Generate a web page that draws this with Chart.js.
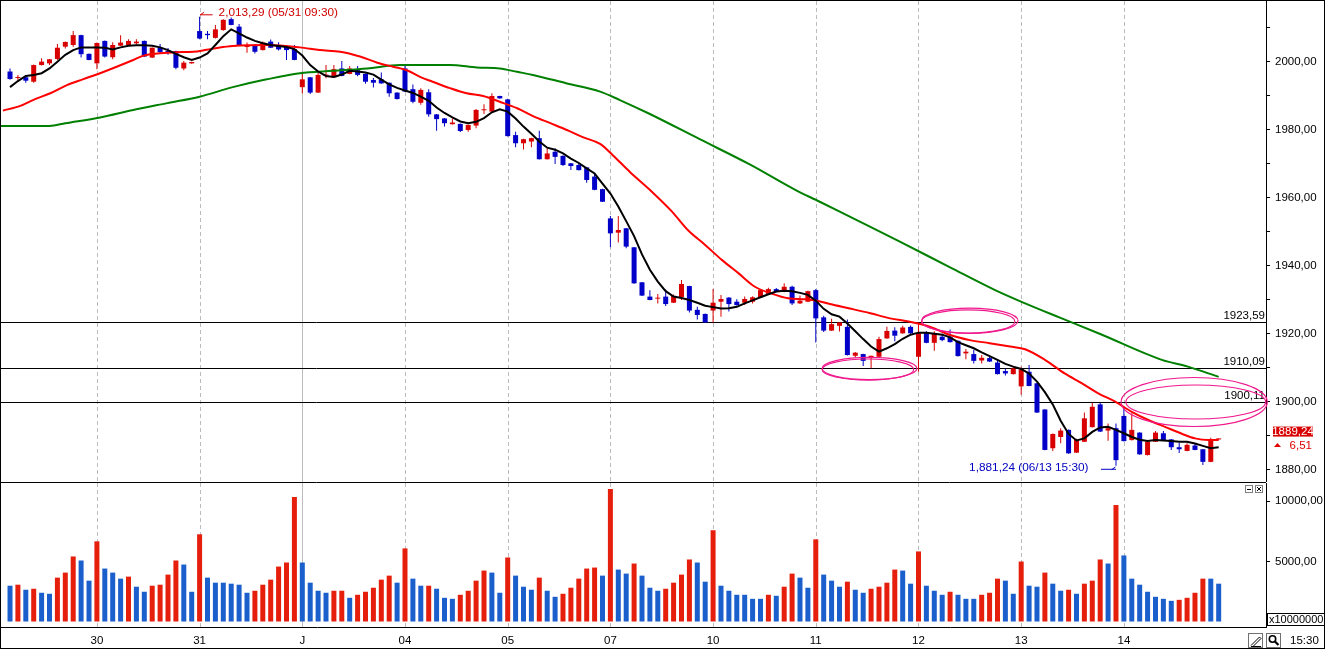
<!DOCTYPE html>
<html>
<head>
<meta charset="utf-8">
<script src="https://cdn.jsdelivr.net/npm/chart.js@4.4.1/dist/chart.umd.min.js"></script>
<style>
body { margin: 0; background: #fff; }
#wrap { position: relative; width: 1325px; height: 649px; overflow: hidden; background: #fff; }
#frame { position: absolute; left: 0; top: 0; width: 1323px; height: 647px; border: 1px solid #000; pointer-events: none; }
.box { position: absolute; left: 0; width: 1325px; }
</style>
</head>
<body>
<div id="wrap">
  <div class="box" style="top:0;height:482px"><canvas id="price" width="1325" height="482"></canvas></div>
  <div class="box" style="top:482px;height:167px"><canvas id="vol" width="1325" height="167"></canvas></div>
  <div id="frame"></div>
</div>
<script>
// 30-minute bars, 29 May (partial) .. 14 June
var dayStart = [11, 24, 37, 50, 63, 76, 89, 102, 115, 128, 141];
var dayLabel = ['30', '31', 'J', '04', '05', '07', '10', '11', '12', '13', '14'];

var opens = [1997.2,1995.3,1995.5,1994.2,1999.1,1999.6,2000.9,2004.5,2005.0,2007.9,
  2002.4,1999.6,2006.2,2001.4,2004.8,2005.0,2005.5,2006.2,2001.3,2004.2,
  2003.3,2003.2,1998.1,1999.6,2009.1,2008.3,2007.1,2009.4,2012.6,2010.4,
  2004.4,2004.7,2003.5,2006.0,2005.0,2004.7,2003.8,1992.6,1995.5,1991.0,
  1996.0,1995.5,1998.1,1996.5,1997.6,1996.5,1994.7,1994.9,1993.9,1991.0,
  1998.1,1992.0,1988.0,1991.1,1984.6,1983.4,1981.7,1981.8,1980.0,1981.3,
  1985.8,1985.4,1990.0,1989.0,1978.5,1976.1,1976.6,1977.6,1971.4,1973.6,
  1972.4,1970.2,1969.7,1969.0,1966.3,1962.6,1954.0,1949.8,1951.1,1945.5,
  1935.2,1931.0,1930.4,1931.0,1929.2,1930.8,1934.1,1927.1,1925.9,1926.9,
  1929.5,1930.7,1929.5,1929.2,1929.5,1930.8,1931.8,1933.2,1932.4,1933.9,
  1929.0,1929.5,1932.9,1924.9,1921.0,1922.4,1922.1,1913.6,1914.1,1912.9,
  1913.3,1918.7,1921.0,1920.2,1922.1,1913.3,1920.4,1917.4,1919.2,1919.2,
  1918.0,1914.3,1914.1,1912.2,1912.9,1911.6,1909.1,1908.2,1904.6,1908.9,
  1905.5,1897.8,1886.4,1889.7,1891.8,1885.1,1888.3,1892.6,1899.3,1891.6,
  1892.3,1895.9,1888.8,1891.0,1884.4,1888.3,1890.8,1889.0,1886.7,1885.6,
  1887.2,1886.1,1882.4,1889.0];
var highs = [1998.1,1996.2,1996.2,1999.3,2001.1,2000.9,2005.3,2006.0,2009.1,2008.0,
  2002.5,2005.7,2006.3,2005.8,2007.9,2006.7,2006.7,2006.3,2004.3,2005.3,
  2004.1,2003.3,2000.3,2000.1,2013.29,2009.1,2010.9,2012.6,2013.1,2011.2,
  2005.7,2005.3,2006.0,2006.6,2005.8,2004.8,2005.0,1997.1,1995.6,1996.9,
  1999.1,1999.1,2000.3,1998.8,1998.8,1996.6,1995.3,1996.9,1994.0,1991.1,
  1999.4,1993.4,1992.3,1992.0,1984.7,1983.5,1983.4,1981.9,1981.6,1986.2,
  1987.6,1990.8,1990.1,1989.2,1979.5,1977.4,1977.7,1979.8,1974.6,1974.6,
  1972.5,1970.3,1970.2,1969.1,1967.3,1962.7,1954.7,1954.7,1951.2,1945.6,
  1935.3,1932.9,1931.8,1933.1,1931.6,1935.9,1934.2,1928.0,1926.0,1933.2,
  1931.5,1930.9,1930.2,1931.0,1931.1,1933.1,1933.6,1933.5,1934.9,1934.2,
  1931.3,1932.7,1933.2,1925.4,1924.5,1923.4,1924.3,1914.7,1914.2,1913.6,
  1919.2,1922.1,1922.0,1922.4,1922.5,1923.1,1920.8,1920.8,1920.1,1921.3,
  1918.1,1915.6,1915.4,1913.8,1913.6,1912.5,1909.8,1910.4,1910.4,1910.9,
  1905.6,1897.9,1890.7,1892.3,1891.9,1889.2,1896.9,1899.8,1899.8,1893.7,
  1893.7,1898.6,1896.7,1891.1,1888.8,1891.5,1891.5,1889.1,1888.0,1887.9,
  1887.9,1886.2,1889.5,1889.3];
var lows = [1994.8,1994.2,1993.9,1993.9,1999.0,1999.1,2000.6,2004.0,2004.5,2001.3,
  2000.5,1997.9,2001.3,2000.8,2004.7,2004.9,2005.1,2001.5,2001.2,2002.4,
  2002.1,1997.9,1997.6,1999.5,2006.7,2006.7,2006.9,2009.2,2010.8,2004.9,
  2002.7,2002.5,2003.4,2004.1,2003.4,2000.6,2000.5,1990.8,1990.6,1990.9,
  1995.2,1995.4,1995.8,1996.4,1995.8,1993.6,1992.5,1993.6,1989.8,1989.0,
  1991.2,1987.9,1987.4,1983.9,1979.8,1981.0,1981.6,1979.4,1979.5,1980.5,
  1984.7,1985.3,1989.2,1978.1,1974.9,1974.3,1974.9,1971.3,1971.3,1970.0,
  1969.4,1968.2,1968.1,1964.5,1962.3,1958.8,1945.5,1946.9,1945.2,1934.8,
  1931.2,1929.9,1929.0,1928.2,1929.1,1930.0,1926.3,1924.3,1923.3,1923.4,
  1925.1,1926.6,1928.4,1928.5,1929.0,1930.7,1931.7,1932.3,1932.3,1928.5,
  1928.8,1929.4,1917.5,1920.6,1920.9,1920.7,1913.7,1913.0,1910.6,1909.9,
  1913.2,1918.6,1917.9,1920.1,1920.1,1908.9,1917.3,1915.1,1917.9,1917.5,
  1913.4,1912.6,1911.3,1911.3,1911.8,1908.1,1907.8,1908.1,1902.1,1904.6,
  1896.8,1885.8,1885.6,1887.9,1884.8,1885.0,1888.2,1892.5,1891.2,1888.6,
  1881.24,1888.4,1888.7,1884.5,1884.3,1888.2,1888.7,1885.9,1885.0,1885.5,
  1885.8,1881.5,1882.3,1888.9];
var closes = [1995.0,1995.5,1994.5,1999.1,2000.1,2000.8,2004.2,2005.9,2007.9,2002.3,
  2000.6,2005.6,2001.6,2005.0,2005.7,2006.2,2006.0,2001.6,2004.2,2002.9,
  2002.8,1998.3,1999.8,2000.0,2006.9,2007.9,2009.6,2012.4,2010.9,2005.0,
  2004.6,2003.0,2005.7,2004.2,2003.7,2003.5,2000.6,1994.9,1991.0,1996.2,
  1996.3,1997.9,1995.9,1998.1,1996.2,1994.2,1993.9,1993.7,1990.8,1989.1,
  1991.3,1988.3,1991.8,1984.6,1983.2,1982.0,1982.2,1979.7,1981.5,1985.9,
  1986.0,1990.0,1989.3,1978.2,1976.1,1977.3,1977.6,1971.4,1973.1,1972.1,
  1969.7,1969.4,1968.2,1965.3,1962.4,1958.9,1949.6,1950.6,1945.7,1934.9,
  1931.3,1930.0,1930.6,1928.8,1931.2,1934.7,1926.9,1925.6,1923.4,1929.2,
  1930.3,1928.8,1928.5,1930.3,1930.8,1932.9,1933.2,1932.4,1933.9,1929.0,
  1929.8,1932.6,1924.6,1921.0,1922.9,1923.4,1913.8,1914.5,1912.1,1913.6,
  1918.5,1920.9,1919.5,1921.9,1920.2,1920.2,1917.4,1920.0,1918.2,1917.6,
  1913.5,1914.8,1912.1,1913.0,1911.9,1908.2,1908.4,1909.9,1909.6,1904.7,
  1896.9,1885.9,1890.6,1891.6,1884.9,1888.8,1895.2,1898.6,1891.3,1892.3,
  1882.9,1888.5,1891.8,1884.6,1888.3,1891.0,1888.8,1886.7,1886.1,1887.4,
  1885.9,1882.4,1889.0,1889.24];

var volumes = [3000,3083,2667,2750,2417,2333,3667,4083,5417,5083,
  3417,6667,4417,4083,3583,3750,2917,2500,3000,3083,
  3917,5083,4750,2500,7250,3667,3250,3250,3167,3083,
  2417,2583,3083,3500,4583,4917,10333,4917,3250,2583,
  2417,2583,2583,2000,2250,2500,2833,3500,3833,3250,
  6083,3583,3000,3000,2750,2000,1917,2250,2583,3417,
  4250,4083,2417,5333,3833,2917,2667,3667,2583,2083,
  2333,2833,3583,4417,4500,3833,11000,4333,4000,4833,
  3833,2833,2583,2750,3250,3917,5167,4917,3333,7583,
  3000,2583,2250,2250,1917,1917,2250,2167,2917,4000,
  3667,2833,6833,3917,3417,2917,3333,2667,2417,2750,
  2917,3250,4333,4250,3167,5833,3000,2583,2250,2500,
  2250,1917,1917,2250,2417,3583,3417,2333,5000,3000,
  2917,4083,3167,2583,2667,2333,3167,3417,5167,4833,
  9667,5500,3583,3083,2500,2083,1917,1750,1833,2000,
  2417,3583,3583,3167];
// 1 = red (up) volume bar, 0 = blue
var volUp = [0,1,0,1,0,0,1,1,1,0, 0,1,0,0,0,1,0,0,1,1, 1,1,0,0,1,0,0,0,0,0,
  0,1,1,1,1,1,1,0,0,0, 0,1,1,0,1,1,1,1,1,0, 1,0,0,1,0,0,0,1,1,1,
  1,0,0,1,0,0,0,1,0,0, 1,1,1,1,1,0,1,0,0,1, 0,0,0,1,1,1,1,0,0,1,
  0,0,0,0,0,0,1,0,1,1, 0,0,1,0,0,0,1,0,0,1, 1,1,1,0,0,1,0,0,0,1,
  0,0,0,1,1,1,0,0,1,0, 0,1,0,0,1,0,1,1,1,0, 1,0,0,0,0,0,0,0,1,1,
  1,1,0,0];

// short moving average (black), one value per bar
var ma5 = [1992.6,1994.4,1995.9,1996.2,1996.7,1998.1,2000.1,2002.1,2003.5,2004.3,
  2004.3,2004.3,2004.2,2003.7,2004.3,2004.8,2004.9,2004.9,2004.8,2004.3,
  2003.5,2002.4,2001.4,2000.6,2001.3,2002.5,2005.0,2007.6,2009.6,2008.4,
  2007.2,2006.2,2005.5,2005.0,2004.7,2004.4,2003.8,2001.9,1999.1,1997.2,
  1995.9,1995.6,1996.3,1997.4,1997.2,1996.9,1996.3,1994.8,1993.4,1992.4,
  1991.6,1990.9,1989.8,1988.6,1986.6,1985.0,1983.7,1982.5,1982.0,1982.4,
  1983.5,1985.2,1986.1,1985.4,1983.4,1981.0,1978.9,1976.6,1974.8,1974.2,
  1973.1,1971.6,1970.3,1968.7,1967.2,1964.2,1961.3,1957.5,1953.2,1948.8,
  1943.4,1938.9,1935.4,1932.6,1931.0,1930.6,1930.0,1929.2,1928.3,1927.9,
  1927.5,1927.6,1928.0,1929.0,1929.9,1930.8,1931.7,1932.5,1932.7,1932.6,
  1932.1,1931.5,1929.8,1927.4,1925.8,1925.1,1923.1,1920.8,1918.5,1916.3,
  1914.8,1915.8,1917.0,1918.6,1919.8,1920.4,1920.4,1920.1,1919.8,1919.0,
  1917.6,1916.7,1915.8,1914.6,1913.5,1912.4,1911.2,1910.4,1909.7,1908.4,
  1906.0,1902.9,1899.3,1894.5,1890.6,1888.7,1889.3,1891.2,1892.5,1892.7,
  1891.8,1890.8,1889.7,1888.9,1888.5,1888.8,1888.7,1888.5,1888.3,1888.3,
  1887.8,1887.1,1886.4,1886.7];
// middle (red) and long (green) averages, read as [bar, value]
var ma20 = [[-0.9,1985.7],[1.3,1987.1],[2.9,1988.8],[5.1,1990.8],[7.2,1993.2],[9.2,1994.9],
  [11.4,1996.7],[13.5,1998.6],[15.6,2000.6],[16.8,2001.8],[19,2002.6],[21.1,2002.9],
  [23.2,2003.0],[24.9,2003.6],[26.4,2004.2],[28.2,2004.7],[32.5,2005.0],[36.7,2004.3],
  [39.2,2003.5],[41.8,2003.0],[44.3,2001.6],[46.5,1999.8],[48.5,1998.6],[50.3,1997.5],
  [51.9,1995.6],[53.5,1994.2],[55.7,1992.3],[57.8,1990.8],[59.9,1990.0],[62,1988.3],
  [64.2,1986.4],[66.2,1984.1],[68.4,1982.0],[70.5,1980.0],[72.5,1977.9],[74.7,1975.9],
  [76.3,1972.6],[78.5,1967.6],[81,1962.4],[83.8,1956.0],[85.8,1950.6],[88,1946.2],
  [90.1,1941.8],[92.2,1937.9],[94.3,1933.9],[96.5,1931.8],[98.5,1930.5],[100.6,1930.2],
  [102.3,1929.7],[103.8,1928.8],[106.3,1927.5],[108.9,1926.1],[111.4,1924.6],[113.9,1923.6],
  [116.5,1922.1],[119,1919.7],[121.5,1918.2],[124,1917.3],[126.6,1916.3],[128.5,1915.5],
  [131,1912.4],[133.5,1908.4],[135.7,1905.5],[137.7,1902.6],[139.9,1900.1],[142,1897.1],
  [144.1,1894.7],[146.2,1892.7],[148.4,1890.6],[150,1889.3],[151.7,1888.8],[153,1888.8]];
var ma60 = [[-1.3,1981.2],[5,1981.2],[7,1982.0],[11.4,1983.7],[15.6,1985.9],[19.9,1987.9],
  [24,1989.8],[28.2,1992.6],[32.5,1994.9],[36.7,1996.7],[40.9,1997.4],[45.2,1998.1],
  [49.4,1999.1],[55.7,1999.1],[59.1,1998.4],[62,1998.1],[64.2,1997.1],[66.2,1996.2],
  [70.5,1993.7],[74.7,1991.3],[77.2,1988.8],[81,1984.7],[87.3,1977.3],[93.7,1969.8],
  [99.4,1962.4],[102.5,1958.9],[106.3,1954.5],[112.7,1947.1],[119,1939.6],[124.7,1932.9],
  [128.5,1929.0],[132.9,1924.8],[138,1920.0],[145.8,1912.4],[149.1,1910.4],[153,1907.4]];

var levels = [1923.59, 1910.09, 1900.11];
var levelText = ['1923,59', '1910,09', '1900,11'];
var priceTicks = [1880,1890,1900,1910,1920,1930,1940,1950,1960,1970,1980,1990,2000,2010];
var volTicks = [0, 5000, 10000];
var highBar = 24, highText = '2,013,29 (05/31 09:30)';
var lowBar = 140, lowText = '1,881,24 (06/13 15:30)';
var lastText = '1889,24', changeText = '6,51';

// hand-drawn pink loops: centre (bar, price) and radii (bars, points)
var loops = [
  {bar: 121.5, price: 1923.9, rb: 6.1, rp: 3.7},
  {bar: 121.3, price: 1923.7, rb: 5.9, rp: 3.4},
  {bar: 108.8, price: 1909.85, rb: 6.0, rp: 3.25},
  {bar: 108.6, price: 1909.55, rb: 5.8, rp: 3.1},
  {bar: 149.9, price: 1900.0, rb: 9.25, rp: 7.2},
  {bar: 150.1, price: 1900.0, rb: 8.85, rp: 5.0}
];

var FONT = '"Liberation Sans", Arial, sans-serif';
var UP = '#d80000', DOWN = '#0000c8', VUP = '#e61e0c', VDOWN = '#1a5fcc';
var XMIN = -1.14, XMAX = 158.99;

function fmt(v) { return v.toFixed(2).replace('.', ','); }
var idx = opens.map(function(_, i) { return i; });
var candleColor = idx.map(function(i) { return closes[i] >= opens[i] ? UP : DOWN; });

var daySeparators = {
    id: 'daySeparators',
    beforeDatasetsDraw: function(chart) {
        var ctx = chart.ctx, a = chart.chartArea, x = chart.scales.x;
        ctx.save();
        ctx.lineWidth = 1;
        dayStart.forEach(function(d, k) {
            var px = Math.round(x.getPixelForValue(d)) + 0.5;
            ctx.strokeStyle = '#bcbcbc';
            ctx.setLineDash(dayLabel[k] === 'J' ? [] : [4, 3]);
            ctx.beginPath();
            ctx.moveTo(px, a.top);
            ctx.lineTo(px, a.bottom);
            ctx.stroke();
        });
        ctx.setLineDash([]);
        if (chart.canvas.id === 'price') {
            ctx.strokeStyle = '#000';
            levels.forEach(function(v) {
                var py = Math.round(chart.scales.y.getPixelForValue(v)) + 0.5;
                ctx.beginPath();
                ctx.moveTo(a.left - 1, py);
                ctx.lineTo(a.right, py);
                ctx.stroke();
            });
        }
        ctx.restore();
    }
};

var priceExtras = {
    id: 'priceExtras',
    afterDraw: function(chart) {
        var ctx = chart.ctx, a = chart.chartArea, x = chart.scales.x, y = chart.scales.y;
        ctx.save();
        ctx.font = '11.5px ' + FONT;
        ctx.fillStyle = '#000';
        ctx.textAlign = 'right';
        ctx.textBaseline = 'bottom';
        levels.forEach(function(v, k) {
            var py = Math.round(y.getPixelForValue(v));
            ctx.fillText(levelText[k], a.right - 1, py);
        });

        ctx.strokeStyle = '#f0188c';
        ctx.lineWidth = 1.2;
        loops.forEach(function(l) {
            var cx = x.getPixelForValue(l.bar), cy = y.getPixelForValue(l.price);
            var rx = x.getPixelForValue(l.bar + l.rb) - cx;
            var ry = cy - y.getPixelForValue(l.price + l.rp);
            ctx.beginPath();
            ctx.ellipse(cx, cy, rx, ry, 0, 0, Math.PI * 2);
            ctx.stroke();
        });

        // highest point note
        var hx = x.getPixelForValue(highBar), hy = y.getPixelForValue(highs[highBar]);
        ctx.strokeStyle = '#d00000';
        ctx.lineWidth = 1;
        ctx.beginPath();
        ctx.moveTo(hx + 0.5, hy - 2); ctx.lineTo(hx + 13, hy - 2);
        ctx.moveTo(hx + 0.5, hy - 2); ctx.lineTo(hx + 4.5, hy - 4.5);
        ctx.stroke();
        ctx.fillStyle = '#d00000';
        ctx.font = '11.8px ' + FONT;
        ctx.textAlign = 'left';
        ctx.textBaseline = 'middle';
        ctx.fillText(highText, hx + 19, hy - 4);

        // lowest point note
        var lx = x.getPixelForValue(lowBar), ly = y.getPixelForValue(lows[lowBar]);
        ctx.strokeStyle = '#0000c0';
        ctx.beginPath();
        ctx.moveTo(lx - 15, ly + 3.5); ctx.lineTo(lx, ly + 3.5);
        ctx.moveTo(lx - 4.3, ly + 3.9); ctx.lineTo(lx - 0.6, ly + 1.2);
        ctx.stroke();
        ctx.fillStyle = '#0000c0';
        ctx.textAlign = 'right';
        ctx.fillText(lowText, lx - 27.5, ly + 1.5);

        // last price tag on the axis
        var last = closes[closes.length - 1];
        var ty = y.getPixelForValue(last);
        ctx.fillStyle = '#d80000';
        ctx.fillRect(a.right + 7, ty - 12, 40, 10);
        ctx.fillStyle = '#fff';
        ctx.font = '11.5px ' + FONT;
        ctx.textAlign = 'center';
        ctx.fillText(lastText, a.right + 27, ty - 6.5);
        ctx.fillStyle = '#e00000';
        ctx.beginPath();
        ctx.moveTo(a.right + 8, ty + 8.5);
        ctx.lineTo(a.right + 15, ty + 8.5);
        ctx.lineTo(a.right + 11.5, ty + 4.5);
        ctx.closePath();
        ctx.fill();
        ctx.textAlign = 'right';
        ctx.fillText(changeText, a.right + 46, ty + 7.5);
        ctx.restore();
    }
};

var volExtras = {
    id: 'volExtras',
    afterDraw: function(chart) {
        var ctx = chart.ctx, a = chart.chartArea;
        ctx.save();
        ctx.strokeStyle = '#000';
        ctx.lineWidth = 1;
        ctx.beginPath();
        ctx.moveTo(0, 0.5); ctx.lineTo(a.right, 0.5);
        ctx.stroke();

        // minimise / close buttons
        ctx.strokeStyle = '#808080';
        ctx.strokeRect(a.right - 20.5, 3.5, 7, 7);
        ctx.strokeRect(a.right - 10.5, 3.5, 7, 7);
        ctx.strokeStyle = '#000';
        ctx.beginPath();
        ctx.moveTo(a.right - 19, 7.5); ctx.lineTo(a.right - 15, 7.5);
        ctx.moveTo(a.right - 9, 5); ctx.lineTo(a.right - 5, 9);
        ctx.moveTo(a.right - 5, 5); ctx.lineTo(a.right - 9, 9);
        ctx.stroke();

        // unit box
        ctx.fillStyle = '#fff';
        ctx.fillRect(a.right + 1, 131, 58, 13);
        ctx.strokeStyle = '#000';
        ctx.strokeRect(a.right + 1.5, 131.5, 57, 12);
        ctx.fillStyle = '#000';
        ctx.font = '11px ' + FONT;
        ctx.textAlign = 'left';
        ctx.textBaseline = 'middle';
        ctx.fillText('x10000000', a.right + 3, 138);

        // pencil and magnifier buttons, time
        ctx.strokeStyle = '#707070';
        ctx.strokeRect(1248.5, 151.5, 14, 14);
        ctx.strokeRect(1266.5, 151.5, 14, 14);
        ctx.strokeStyle = '#000';
        ctx.lineWidth = 1;
        ctx.beginPath();
        ctx.moveTo(1251, 163.5); ctx.lineTo(1259.5, 155); ctx.lineTo(1261, 156.5); ctx.lineTo(1252.5, 165);
        ctx.moveTo(1251, 164.5); ctx.lineTo(1261, 164.5);
        ctx.stroke();
        ctx.lineWidth = 1.6;
        ctx.beginPath();
        ctx.arc(1272.5, 157, 3.2, 0, Math.PI * 2);
        ctx.stroke();
        ctx.lineWidth = 2.2;
        ctx.beginPath();
        ctx.moveTo(1275, 159.5); ctx.lineTo(1278.5, 163);
        ctx.stroke();
        ctx.font = '11.5px ' + FONT;
        ctx.fillText('15:30', 1290, 158.5);
        ctx.restore();
    }
};

var axisFont = {family: FONT, size: 11.5};

new Chart(document.getElementById('price'), {
    type: 'bar',
    data: {
        datasets: [{
            type: 'line',
            data: ma5.map(function(v, i) { return {x: i, y: v}; }),
            borderColor: '#000', borderWidth: 2, pointRadius: 0, order: 0
        }, {
            type: 'line',
            data: ma20.map(function(p) { return {x: p[0], y: p[1]}; }),
            borderColor: '#ff0000', borderWidth: 2, pointRadius: 0,
            cubicInterpolationMode: 'monotone', order: 0
        }, {
            type: 'line',
            data: ma60.map(function(p) { return {x: p[0], y: p[1]}; }),
            borderColor: '#008000', borderWidth: 2, pointRadius: 0,
            cubicInterpolationMode: 'monotone', order: 0
        }, {
            data: idx.map(function(i) { return {x: i, y: [opens[i], closes[i]]}; }),
            backgroundColor: candleColor, barThickness: 5, minBarLength: 1,
            grouped: false, inflateAmount: 0, order: 1
        }, {
            data: idx.map(function(i) { return {x: i, y: [lows[i], highs[i]]}; }),
            backgroundColor: candleColor, barThickness: 1,
            grouped: false, inflateAmount: 0, order: 2
        }]
    },
    options: {
        responsive: false,
        animation: false,
        devicePixelRatio: 1,
        events: [],
        layout: {padding: {left: 1, top: 1, right: 0, bottom: 0}},
        plugins: {legend: {display: false}, tooltip: {enabled: false}},
        scales: {
            x: {type: 'linear', min: XMIN, max: XMAX, offset: false, bounds: 'data', display: false},
            y: {
                position: 'right',
                min: 1876.47,
                max: 2017.94,
                afterBuildTicks: function(s) { s.ticks = priceTicks.map(function(v) { return {value: v}; }); },
                afterFit: function(s) { s.width = 59; s.paddingTop = 0; s.paddingBottom = 0; },
                ticks: {
                    autoSkip: false,
                    padding: 5,
                    color: '#000',
                    font: axisFont,
                    callback: function(v) { return v % 20 === 0 ? fmt(v) : ''; }
                },
                grid: {drawOnChartArea: false, tickLength: 4, color: '#000'},
                border: {color: '#000'}
            }
        }
    },
    plugins: [daySeparators, priceExtras]
});

new Chart(document.getElementById('vol'), {
    type: 'bar',
    data: {
        datasets: [{
            data: idx.map(function(i) { return {x: i, y: volumes[i]}; }),
            backgroundColor: idx.map(function(i) { return volUp[i] ? VUP : VDOWN; }),
            barThickness: 5, grouped: false, inflateAmount: 0
        }]
    },
    options: {
        responsive: false,
        animation: false,
        devicePixelRatio: 1,
        events: [],
        layout: {padding: {left: 1, top: 1, right: 0, bottom: 0}},
        plugins: {legend: {display: false}, tooltip: {enabled: false}},
        scales: {
            x: {
                type: 'linear', min: XMIN, max: XMAX, offset: false, bounds: 'data',
                afterBuildTicks: function(s) { s.ticks = dayStart.map(function(v) { return {value: v}; }); },
                afterFit: function(s) { s.height = 22; s.paddingLeft = 0; s.paddingRight = 0; },
                ticks: {
                    autoSkip: false, maxRotation: 0, padding: 7, color: '#000', font: axisFont,
                    callback: function(v, i) { return dayLabel[i]; }
                },
                grid: {display: false, drawTicks: false, tickLength: 0},
                border: {color: '#000'}
            },
            y: {
                position: 'right',
                min: -413,
                max: 11488,
                afterBuildTicks: function(s) { s.ticks = volTicks.map(function(v) { return {value: v}; }); },
                afterFit: function(s) { s.width = 59; s.paddingTop = 0; s.paddingBottom = 0; },
                ticks: {
                    autoSkip: false, padding: 5, color: '#000', font: axisFont,
                    callback: function(v) { return v ? fmt(v) : ''; }
                },
                grid: {drawOnChartArea: false, tickLength: 4, color: '#000'},
                border: {color: '#000'}
            }
        }
    },
    plugins: [daySeparators, volExtras]
});
</script>
</body>
</html>
